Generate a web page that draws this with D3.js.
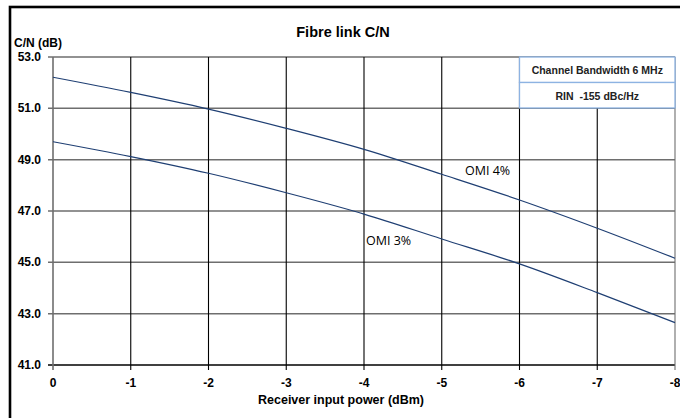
<!DOCTYPE html>
<html>
<head>
<meta charset="utf-8">
<script src="https://cdn.jsdelivr.net/npm/d3@7"></script>
<style>
  body { margin: 0; background: #fff; }
  svg { display: block; font-family: 'Liberation Sans', Arial, sans-serif; }
  text { white-space: pre; }
</style>
</head>
<body>
<div class="chart"></div>
<script>
(function () {
  var power = [0, -1, -2, -3, -4, -5, -6, -7, -8]
  var omi4 = [52.21, 51.62, 50.97, 50.22, 49.4, 48.43, 47.43, 46.33, 45.16]
  var omi3 = [49.7, 49.12, 48.47, 47.71, 46.88, 45.91, 44.94, 43.82, 42.65]
  var yTicks = [41, 43, 45, 47, 49, 51, 53]
  var legendLines = ['Channel Bandwidth 6 MHz', 'RIN  -155 dBc/Hz']

  var width = 680
  var height = 418
  var left = 53
  var right = 675
  var top = 57
  var bottom = 365

  var svg = d3.select('.chart')
    .append('svg')
    .attr('width', width)
    .attr('height', height)

  var x = d3.scaleLinear().domain([0, -8]).range([left, right])
  var y = d3.scaleLinear().domain([41, 53]).range([bottom, top])

  // outer frame
  svg.append('rect')
    .attr('x', 10)
    .attr('y', 7)
    .attr('width', width + 20)
    .attr('height', height + 20)
    .attr('fill', 'none')
    .attr('stroke', '#000')
    .attr('stroke-width', 2.6)

  // horizontal grid
  svg.selectAll('.hgrid')
    .data(yTicks)
    .enter()
    .append('line')
    .attr('class', 'hgrid')
    .attr('x1', left - 5)
    .attr('x2', right)
    .attr('y1', function (d) { return y(d) })
    .attr('y2', function (d) { return y(d) })
    .attr('stroke', function (d) { return d === 41 ? '#000' : '#6e6e6e' })
    .attr('stroke-width', 1.5)

  // vertical grid
  svg.selectAll('.vgrid')
    .data(power)
    .enter()
    .append('line')
    .attr('class', 'vgrid')
    .attr('x1', function (d) { return x(d) })
    .attr('x2', function (d) { return x(d) })
    .attr('y1', top)
    .attr('y2', bottom + 5)
    .attr('stroke', function (d) { return d === 0 || d === -8 ? '#6e6e6e' : '#000' })
    .attr('stroke-width', function (d) { return d === 0 ? 1.6 : 1.1 })

  // curves
  var line = d3.line()
    .x(function (d, i) { return x(power[i]) })
    .y(function (d) { return y(d) })
    .curve(d3.curveMonotoneX)

  svg.selectAll('.curve')
    .data([omi4, omi3])
    .enter()
    .append('path')
    .attr('class', 'curve')
    .attr('d', line)
    .attr('fill', 'none')
    .attr('stroke', '#1f3f73')
    .attr('stroke-width', 1.2)

  // legend box
  var boxX = x(-6)
  var boxW = x(-8) - x(-6)
  svg.selectAll('.legend-box')
    .data(legendLines)
    .enter()
    .append('rect')
    .attr('class', 'legend-box')
    .attr('x', boxX)
    .attr('y', function (d, i) { return top + i * 25.5 })
    .attr('width', boxW)
    .attr('height', 25.5)
    .attr('fill', '#fff')
    .attr('stroke', '#8db3e2')
    .attr('stroke-width', 1.3)

  svg.selectAll('.legend-text')
    .data(legendLines)
    .enter()
    .append('text')
    .attr('class', 'legend-text')
    .attr('x', boxX + boxW / 2)
    .attr('y', function (d, i) { return top + 17 + i * 25.5 })
    .attr('text-anchor', 'middle')
    .attr('font-size', '10.5px')
    .attr('font-weight', 'bold')
    .attr('fill', '#222')
    .text(function (d) { return d })

  // y tick labels
  svg.selectAll('.ylab')
    .data(yTicks)
    .enter()
    .append('text')
    .attr('class', 'ylab')
    .attr('x', 41)
    .attr('y', function (d) { return y(d) + 4 })
    .attr('text-anchor', 'end')
    .attr('font-size', '12px')
    .attr('font-weight', 'bold')
    .text(function (d) { return d.toFixed(1) })

  // x tick labels
  svg.selectAll('.xlab')
    .data(power)
    .enter()
    .append('text')
    .attr('class', 'xlab')
    .attr('x', function (d) { return x(d) })
    .attr('y', 387)
    .attr('text-anchor', 'middle')
    .attr('font-size', '12px')
    .attr('font-weight', 'bold')
    .text(function (d) { return d })

  svg.append('text')
    .attr('x', 343)
    .attr('y', 37)
    .attr('text-anchor', 'middle')
    .attr('font-size', '14.5px')
    .attr('font-weight', 'bold')
    .text('Fibre link C/N')

  svg.append('text')
    .attr('x', 14)
    .attr('y', 47)
    .attr('font-size', '12px')
    .attr('font-weight', 'bold')
    .text('C/N (dB)')

  svg.append('text')
    .attr('x', 341)
    .attr('y', 404)
    .attr('text-anchor', 'middle')
    .attr('font-size', '12.5px')
    .attr('font-weight', 'bold')
    .text('Receiver input power (dBm)')

  // series labels
  svg.append('text')
    .attr('x', 465)
    .attr('y', 175)
    .attr('font-family', "'Open Sans', sans-serif")
    .attr('font-size', '12.5px')
    .text('OMI 4%')

  svg.append('text')
    .attr('x', 366)
    .attr('y', 245)
    .attr('font-family', "'Open Sans', sans-serif")
    .attr('font-size', '12.5px')
    .text('OMI 3%')
})()
</script>
</body>
</html>
